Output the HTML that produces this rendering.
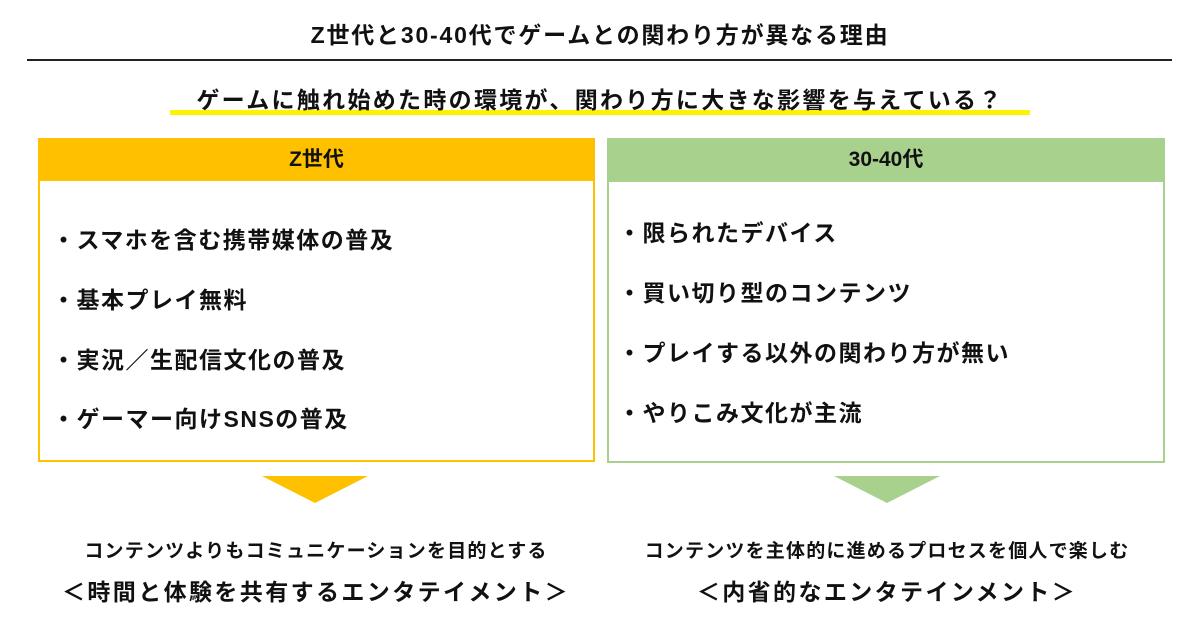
<!DOCTYPE html>
<html><head><meta charset="utf-8"><style>
body{margin:0;width:1200px;height:622px;background:#fff;position:relative;overflow:hidden;font-family:"Liberation Sans","Noto Sans CJK JP",sans-serif;font-weight:bold;color:#111}
.a{position:absolute;white-space:nowrap}
.c{text-align:center}
.it{font-size:23px;line-height:30px;letter-spacing:1.5px}
</style></head><body>
<div class="a c" style="left:0;width:1200px;top:20px;font-size:23px;line-height:30px;letter-spacing:1.8px">Z世代と30-40代でゲームとの関わり方が異なる理由</div>
<div class="a" style="left:27px;top:59px;width:1145px;height:2px;background:#222"></div>
<div class="a" style="left:170px;top:110px;width:860px;height:5px;background:#fff200"></div>
<div class="a c" style="left:0;width:1200px;top:85px;font-size:23px;line-height:30px;letter-spacing:2.3px">ゲームに触れ始めた時の環境が、関わり方に大きな影響を与えている？</div>

<div class="a" style="left:38px;top:138px;width:553px;height:322px;border:2px solid #FFC000;border-top:none"></div>
<div class="a c" style="left:38px;top:138px;width:557px;height:43px;background:#FFC000;font-size:21px;line-height:43px">Z世代</div>
<div class="a it" style="left:52px;top:225px">・スマホを含む携帯媒体の普及</div>
<div class="a it" style="left:52px;top:285px">・基本プレイ無料</div>
<div class="a it" style="left:52px;top:345px">・実況／生配信文化の普及</div>
<div class="a it" style="left:52px;top:404px">・ゲーマー向けSNSの普及</div>

<div class="a" style="left:607px;top:138px;width:554px;height:323px;border:2px solid #A9D18E;border-top:none"></div>
<div class="a c" style="left:607px;top:138px;width:558px;height:44px;background:#A9D18E;font-size:21px;line-height:44px">30-40代</div>
<div class="a it" style="left:618px;top:218px">・限られたデバイス</div>
<div class="a it" style="left:618px;top:278px">・買い切り型のコンテンツ</div>
<div class="a it" style="left:618px;top:338px">・プレイする以外の関わり方が無い</div>
<div class="a it" style="left:618px;top:398px">・やりこみ文化が主流</div>

<svg class="a" style="left:0;top:0" width="1200" height="622">
<polygon points="262,476 368,476 315,503" fill="#FFC000"/>
<polygon points="834,476 940,476 887,503" fill="#A9D18E"/>
</svg>

<div class="a c" style="left:16px;width:600px;top:539px;font-size:19px;line-height:26px;letter-spacing:1.2px">コンテンツよりもコミュニケーションを目的とする</div>
<div class="a c" style="left:16px;width:600px;top:577px;font-size:23px;line-height:30px;letter-spacing:2.4px">＜時間と体験を共有するエンタテイメント＞</div>
<div class="a c" style="left:587px;width:600px;top:539px;font-size:19px;line-height:26px;letter-spacing:1.2px">コンテンツを主体的に進めるプロセスを個人で楽しむ</div>
<div class="a c" style="left:587px;width:600px;top:577px;font-size:23px;line-height:30px;letter-spacing:2.4px">＜内省的なエンタテインメント＞</div>
</body></html>
